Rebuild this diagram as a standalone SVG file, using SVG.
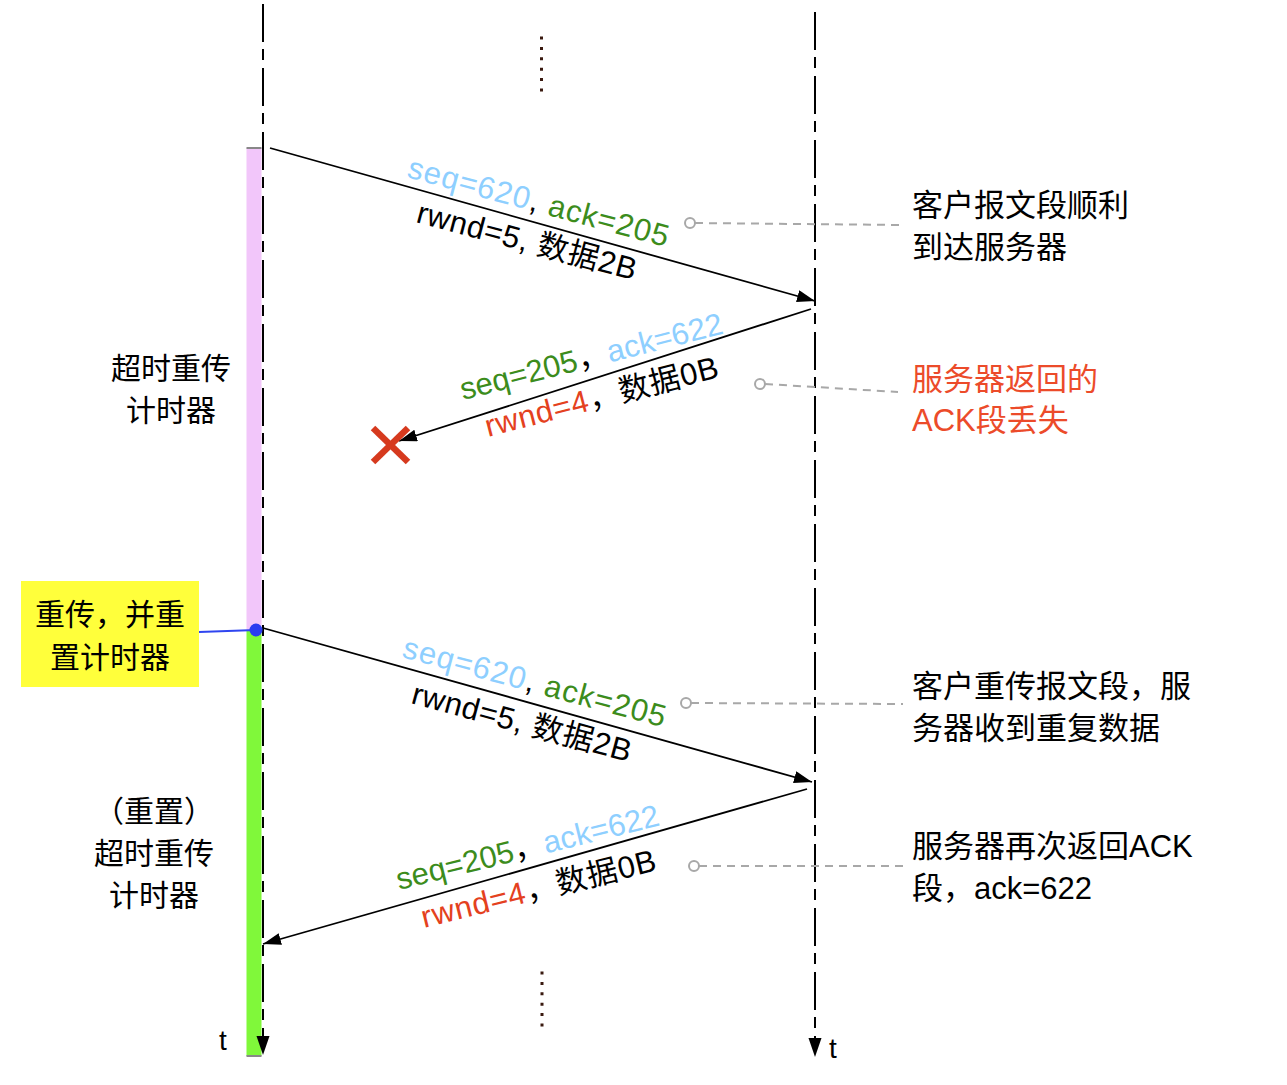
<svg xmlns="http://www.w3.org/2000/svg" width="1287" height="1085" viewBox="0 0 1287 1085">
<style>
text { font-family: "Liberation Sans", "Noto Sans CJK SC", sans-serif; fill: #000; }
.zh { font-size: 30px; }
.rt { font-size: 31px; }
.lbl { font-size: 31px; }
.blue { fill: #8ecfff; }
.green { fill: #3c8c1c; }
.red { fill: #e4411e; }
.redtxt { fill: #ec4b2a; }
.life { stroke: #000; stroke-width: 2; fill: none; stroke-dasharray: 38 7 11 8; }
.msg { stroke: #000; stroke-width: 1.8; fill: none; marker-end: url(#ah); }
.call { stroke: #a8a8a8; stroke-width: 2; fill: none; stroke-dasharray: 8 6; }
.callc { stroke: #a8a8a8; stroke-width: 2; fill: #fff; }
.dots { stroke: #3a1a10; stroke-width: 3; stroke-dasharray: 3 7.4; fill: none; }
</style>
<defs>
<marker id="ah" markerUnits="userSpaceOnUse" markerWidth="20" markerHeight="14" refX="18" refY="6" orient="auto">
<path d="M0,0 L18,6 L0,12 z" fill="#000"/>
</marker>
</defs>
<rect width="1287" height="1085" fill="#fff"/>

<g id="timer-bars">
<rect x="246.5" y="148" width="15" height="482" fill="#f2c6fa"/>
<rect x="246.5" y="630" width="15" height="426" fill="#80f83a"/>
<line x1="246.5" y1="148" x2="261.5" y2="148" stroke="#888" stroke-width="2"/>
<line x1="246.5" y1="1056" x2="261.5" y2="1056" stroke="#888" stroke-width="2"/>
</g>

<g id="lifelines">
<line class="life" x1="263" y1="4" x2="263" y2="1040"/>
<path d="M256.5,1036 L269.5,1036 L263,1055 z" fill="#000"/>
<line class="life" x1="815" y1="12" x2="815" y2="1042"/>
<path d="M808.5,1038 L821.5,1038 L815,1057 z" fill="#000"/>
<line class="dots" x1="541.5" y1="36.5" x2="541.5" y2="93"/>
<line class="dots" x1="542" y1="971.5" x2="542" y2="1028"/>
<text x="219" y="1050" font-size="28">t</text>
<text x="829" y="1058" font-size="28">t</text>
</g>

<g id="connectors">
<line class="msg" x1="270" y1="148" x2="815" y2="301"/>
<line class="msg" x1="811" y1="309" x2="399" y2="441"/>
<line class="msg" x1="263" y1="628" x2="812" y2="782"/>
<line class="msg" x1="807" y1="789" x2="263" y2="944"/>
<line x1="199" y1="632" x2="256" y2="630" stroke="#2f45f0" stroke-width="2"/>
<line class="call" x1="695" y1="223" x2="903" y2="225"/>
<circle class="callc" cx="690" cy="223" r="5"/>
<line class="call" x1="765" y1="384" x2="898" y2="392"/>
<circle class="callc" cx="760" cy="384" r="5"/>
<line class="call" x1="691" y1="703" x2="903" y2="704"/>
<circle class="callc" cx="686" cy="703" r="5"/>
<line class="call" x1="699" y1="866" x2="903" y2="866"/>
<circle class="callc" cx="694" cy="866" r="5"/>
</g>

<g id="lost-mark">
<line x1="373" y1="428" x2="408" y2="462" stroke="#d63a1e" stroke-width="6.5"/>
<line x1="408" y1="428" x2="373" y2="462" stroke="#d63a1e" stroke-width="6.5"/>
</g>

<g id="reset-dot">
<circle cx="256" cy="630" r="6.5" fill="#2a3cf0"/>
</g>

<g id="label-msg1">
<text class="lbl" transform="translate(406,177) rotate(15.07)" textLength="269" lengthAdjust="spacing"><tspan class="blue">seq=620</tspan>, <tspan class="green">ack=205</tspan></text>
<text class="lbl" transform="translate(415,222) rotate(14.9)" textLength="226" lengthAdjust="spacing">rwnd=5, 数据2B</text>
</g>

<g id="label-msg2">
<text class="lbl" transform="translate(463,400) rotate(-14.3)" textLength="270" lengthAdjust="spacing"><tspan class="green">seq=205</tspan>，<tspan class="blue">ack=622</tspan></text>
<text class="lbl" transform="translate(488,437) rotate(-14.5)" textLength="240" lengthAdjust="spacing"><tspan class="red">rwnd=4</tspan>，数据0B</text>
</g>

<g id="label-msg3">
<text class="lbl" transform="translate(401,657) rotate(15)" textLength="271" lengthAdjust="spacing"><tspan class="blue">seq=620</tspan>, <tspan class="green">ack=205</tspan></text>
<text class="lbl" transform="translate(410,703) rotate(15.1)" textLength="226" lengthAdjust="spacing">rwnd=5, 数据2B</text>
</g>

<g id="label-msg4">
<text class="lbl" transform="translate(399,890) rotate(-13.9)" textLength="270" lengthAdjust="spacing"><tspan class="green">seq=205</tspan>，<tspan class="blue">ack=622</tspan></text>
<text class="lbl" transform="translate(424,928) rotate(-13.9)" textLength="241" lengthAdjust="spacing"><tspan class="red">rwnd=4</tspan>，数据0B</text>
</g>

<g id="note-timer">
<text class="zh" x="171" y="379" text-anchor="middle">超时重传</text>
<text class="zh" x="171" y="421" text-anchor="middle">计时器</text>
</g>

<g id="note-reset-timer">
<text class="zh" x="154" y="822" text-anchor="middle">（重置）</text>
<text class="zh" x="154" y="864" text-anchor="middle">超时重传</text>
<text class="zh" x="154" y="906" text-anchor="middle">计时器</text>
</g>

<g id="note-retransmit">
<rect x="21" y="581" width="178" height="106" fill="#ffff3b"/>
<text class="zh" x="110" y="625" text-anchor="middle">重传，并重</text>
<text class="zh" x="110" y="668" text-anchor="middle">置计时器</text>
</g>

<g id="note1">
<text class="rt" x="912" y="216">客户报文段顺利</text>
<text class="rt" x="912" y="258">到达服务器</text>
</g>

<g id="note2">
<text class="rt redtxt" x="912" y="390">服务器返回的</text>
<text class="rt redtxt" x="912" y="431">ACK段丢失</text>
</g>

<g id="note3">
<text class="rt" x="912" y="697">客户重传报文段，服</text>
<text class="rt" x="912" y="739">务器收到重复数据</text>
</g>

<g id="note4">
<text class="rt" x="912" y="857">服务器再次返回ACK</text>
<text class="rt" x="912" y="899">段，ack=622</text>
</g>
</svg>
